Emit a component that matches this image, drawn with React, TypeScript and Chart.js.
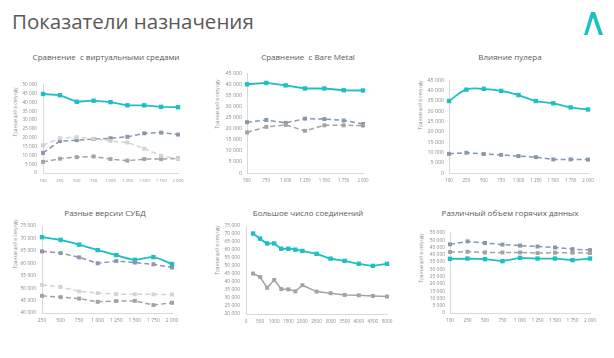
import React, { useEffect, useRef } from 'react';
import { Chart, registerables } from 'chart.js';

Chart.register(...registerables);

// ---------- DATA ----------
const xStd = ['100', '250', '500', '750', '1 000', '1 250', '1 500', '1 750', '2 000'];
const xBare = ['500', '750', '1 000', '1 250', '1 500', '1 750', '2 000'];
const xDb = ['250', '500', '750', '1 000', '1 250', '1 500', '1 750', '2 000'];
const xConn = [250, 500, 750, 1000, 1250, 1500, 1750, 2000, 2500, 3000, 3500, 4000, 4500, 5000];

const virtTeal = [44800, 44100, 40400, 41000, 40200, 38400, 38400, 37500, 37300];
const virtBlue = [11400, 18100, 18600, 19200, 19700, 20500, 22500, 22900, 21800];
const virtLight = [15700, 19700, 20300, 19400, 18100, 17300, 13800, 9800, 7900];
const virtGray = [6300, 8100, 9000, 9400, 7900, 7000, 7900, 7900, 8300];

const bareTeal = [40000, 40600, 39500, 38100, 38100, 37300, 37200];
const bareBlue = [22900, 23900, 22600, 24500, 24300, 23700, 22100];
const bareGray = [18300, 20800, 21700, 19000, 21500, 21500, 21400];

const poolTeal = [34900, 40400, 40800, 39800, 37800, 34900, 33800, 31800, 30800];
const poolBlue = [9300, 9800, 9200, 8800, 8200, 7700, 6600, 6600, 6500];

const dbTeal = [70500, 69400, 67500, 65300, 63300, 61400, 62500, 59700];
const dbBlue = [64800, 64100, 62400, 60000, 60900, 60300, 59600, 58300];
const dbLight = [51300, 50500, 48700, 48000, 47600, 47500, 47500, 47400];
const dbGray = [46900, 46400, 45800, 44500, 44800, 44900, 43200, 44100];

const connTeal = [70300, 67100, 64100, 64100, 60800, 60800, 60200, 59400, 57600, 54600, 53200, 51400, 50100, 51400];
const connGray = [45300, 43100, 36400, 41300, 35600, 35400, 34200, 38000, 34000, 33000, 31900, 31700, 31300, 30900];

const hotTeal = [37200, 37400, 37000, 35600, 37900, 37400, 37400, 36300, 37400];
const hotBlue = [47200, 49200, 48100, 47000, 46300, 45700, 45000, 43900, 43200];
const hotGray = [41900, 42100, 41600, 41600, 41600, 41200, 41400, 41400, 41200];

// ---------- STYLE ----------
const TEAL = '#1DBEC6';
const BLUE = '#8797AC';
const LIGHT = '#D3D3D3';
const GRAY = '#A3A3A3';
const AXIS = '#D9D9D9';
const TICK = '#8A8A8A';
const TEXT = '#595959';
const FONT = "'Open Sans', sans-serif";

const PAD_L = 40, PAD_R = 14, PAD_T = 6, PAD_B = 14;

const fmt = (v: number) => String(v).replace(/\B(?=(\d{3})+(?!\d))/g, ' ');

function solid(data: any[], color: string, tension = 0) {
  return {
    data, borderColor: color, backgroundColor: color, borderWidth: 1.8,
    pointStyle: 'rect', pointRadius: 3.1, pointBorderWidth: 0, tension, clip: false,
  };
}
function dashed(data: any[], color: string) {
  return {
    data, borderColor: color, backgroundColor: color, borderWidth: 1.5, borderDash: [5, 3],
    pointStyle: 'rect', pointRadius: 2.8, pointBorderWidth: 0, tension: 0, clip: false,
  };
}

type Box = { L: number; R: number; T: number; B: number };

function makeConfig(o: {
  labels?: string[]; datasets: any[]; yMin: number; yMax: number; xLinear?: boolean;
  yFont: number; xFont: number; yPad: number; xPad: number;
}) {
  const x: any = o.xLinear
    ? {
        type: 'linear', min: 0, max: 5000,
        ticks: { stepSize: 500, autoSkip: false, maxRotation: 0, color: TICK, font: { family: FONT, size: o.xFont }, padding: o.xPad, callback: (v: any) => String(v) },
      }
    : {
        type: 'category', offset: false,
        ticks: { autoSkip: false, maxRotation: 0, color: TICK, font: { family: FONT, size: o.xFont }, padding: o.xPad },
      };
  x.grid = { display: false, drawTicks: false, offset: false };
  x.border = { display: true, color: AXIS, width: 1 };
  x.afterFit = (s: any) => { s.height = PAD_B; };
  return {
    type: 'line',
    data: { labels: o.labels, datasets: o.datasets },
    options: {
      animation: false, responsive: false, devicePixelRatio: 1,
      layout: { padding: { left: 0, right: PAD_R, top: PAD_T, bottom: 0 } },
      plugins: { legend: { display: false }, tooltip: { enabled: false }, title: { display: false } },
      scales: {
        x,
        y: {
          min: o.yMin, max: o.yMax,
          grid: { display: false, drawTicks: false },
          border: { display: true, color: AXIS, width: 1 },
          ticks: { stepSize: 5000, autoSkip: false, color: TICK, font: { family: FONT, size: o.yFont }, padding: o.yPad, callback: (v: any) => fmt(Number(v)) },
          afterFit: (s: any) => { s.width = PAD_L; },
        },
      },
    },
  } as any;
}

function LineChart({ box, config }: { box: Box; config: any }) {
  const ref = useRef<HTMLCanvasElement>(null);
  const w = box.R - box.L + PAD_L + PAD_R;
  const h = box.B - box.T + PAD_T + PAD_B;
  useEffect(() => {
    const c = new Chart(ref.current as HTMLCanvasElement, config);
    return () => c.destroy();
  }, []);
  return (
    <canvas
      ref={ref}
      width={w}
      height={h}
      style={{ position: 'absolute', left: box.L - PAD_L, top: box.T - PAD_T, width: w, height: h }}
    />
  );
}

function Label({ text, cx, cy, size, color = TEXT, rotate = false }: any) {
  return (
    <div
      style={{
        position: 'absolute', left: cx, top: cy, fontFamily: FONT, fontSize: size, color,
        whiteSpace: 'pre', lineHeight: 1,
        transform: `translate(-50%, -50%)${rotate ? ' rotate(-90deg)' : ''}`,
      }}
    >
      {text}
    </div>
  );
}

const AXIS_TITLE = 'Транзакций в секунду';

export default function App() {
  const charts = [
    {
      box: { L: 43, R: 178, T: 82, B: 173 },
      title: 'Сравнение  с виртуальными средами', tx: 106, ty: 57,
      ax: 15, ay: 112,
      cfg: makeConfig({
        labels: xStd, yMin: 0, yMax: 50000, yFont: 4.7, xFont: 4.3, yPad: 6, xPad: 5,
        datasets: [dashed(virtLight, LIGHT), dashed(virtGray, GRAY), dashed(virtBlue, BLUE), solid(virtTeal, TEAL)],
      }),
    },
    {
      box: { L: 247, R: 363, T: 71, B: 173 },
      title: 'Сравнение  с Bare Metal', tx: 308, ty: 57,
      ax: 217, ay: 104,
      cfg: makeConfig({
        labels: xBare, yMin: 0, yMax: 45000, yFont: 5.3, xFont: 4.4, yPad: 5, xPad: 5,
        datasets: [dashed(bareGray, GRAY), dashed(bareBlue, BLUE), solid(bareTeal, TEAL)],
      }),
    },
    {
      box: { L: 449, R: 588, T: 78, B: 173 },
      title: 'Влияние пулера', tx: 510, ty: 57,
      ax: 420, ay: 105,
      cfg: makeConfig({
        labels: xStd, yMin: 0, yMax: 45000, yFont: 5.3, xFont: 4.5, yPad: 5, xPad: 5,
        datasets: [dashed(poolBlue, BLUE), solid(poolTeal, TEAL, 0.4)],
      }),
    },
    {
      box: { L: 42, R: 172, T: 223, B: 313 },
      title: 'Разные версии СУБД', tx: 105, ty: 213,
      ax: 15, ay: 244,
      cfg: makeConfig({
        labels: xDb, yMin: 40000, yMax: 75000, yFont: 5, xFont: 5, yPad: 6, xPad: 5,
        datasets: [dashed(dbLight, LIGHT), dashed(dbGray, GRAY), dashed(dbBlue, BLUE), solid(dbTeal, TEAL, 0.25)],
      }),
    },
    {
      box: { L: 246, R: 387, T: 223, B: 314 },
      title: 'Большое число соединений', tx: 308, ty: 213,
      ax: 217, ay: 250,
      cfg: makeConfig({
        xLinear: true, yMin: 20000, yMax: 75000, yFont: 5, xFont: 4.7, yPad: 6, xPad: 5,
        datasets: [
          { ...solid(xConn.map((v, i) => ({ x: v, y: connGray[i] })), GRAY), borderWidth: 1.5, pointRadius: 2.8 },
          solid(xConn.map((v, i) => ({ x: v, y: connTeal[i] })), TEAL, 0.25),
        ],
      }),
    },
    {
      box: { L: 450, R: 590, T: 231, B: 313 },
      title: 'Различный объем горячих данных', tx: 510, ty: 213,
      ax: 421, ay: 258,
      cfg: makeConfig({
        labels: xStd, yMin: 0, yMax: 55000, yFont: 4.9, xFont: 4.8, yPad: 5, xPad: 5,
        datasets: [dashed(hotGray, GRAY), dashed(hotBlue, BLUE), solid(hotTeal, TEAL)],
      }),
    },
  ];

  return (
    <div style={{ position: 'absolute', left: 0, top: 0, width: 614, height: 358, background: '#fff', overflow: 'hidden' }}>
      <div style={{ position: 'absolute', left: 12, top: 9, fontFamily: FONT, fontSize: 20.5, color: TEXT, whiteSpace: 'nowrap', lineHeight: 1.2 }}>
        Показатели назначения
      </div>
      <svg style={{ position: 'absolute', left: 583, top: 12 }} width={20} height={23} viewBox="0 0 20 23">
        <polygon points="8,0 12,0 20,23 16,23 10,5.5 4.5,23 1,23" fill={TEAL} />
      </svg>
      {charts.map((c, i) => (
        <React.Fragment key={i}>
          <Label text={c.title} cx={c.tx} cy={c.ty} size={8} />
          <Label text={AXIS_TITLE} cx={c.ax} cy={c.ay} size={4.6} color={TICK} rotate />
          <LineChart box={c.box} config={c.cfg} />
        </React.Fragment>
      ))}
    </div>
  );
}
